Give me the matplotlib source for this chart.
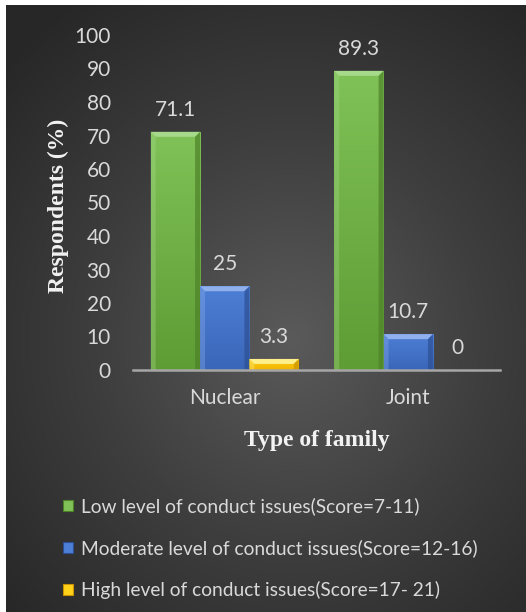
import numpy as np
import matplotlib.pyplot as plt
from matplotlib.patches import Polygon, Patch
from matplotlib.colors import LinearSegmentedColormap

families = ['Nuclear', 'Joint']
series_names = ['Low level of conduct issues(Score=7-11)',
                'Moderate level of conduct issues(Score=12-16)',
                'High level of conduct issues(Score=17- 21)']
low_vals = [71.1, 89.3]
moderate_vals = [25, 10.7]
high_vals = [3.3, 0]
yticks = [0, 10, 20, 30, 40, 50, 60, 70, 80, 90, 100]

# top colour, bottom colour, bevel light, bevel dark
palette = [('#80c257', '#5e9c34', '#a6d98a', '#4d8228'),
           ('#4d7fd6', '#3a66b8', '#8fb0ec', '#2c4f93'),
           ('#ffd21a', '#f0b400', '#fff08a', '#c99300')]

TICK_COL = '#d9d9d9'
FONT = 'Lato'
FS = 15

W, H, DPI = 526, 612, 100
fig = plt.figure(figsize=(W / DPI, H / DPI), dpi=DPI, facecolor='white')

# dark radial background
bg = fig.add_axes([6 / W, 0, 1 - 6 / W, 1 - 5 / H], zorder=0)
yy, xx = np.mgrid[0:1:400j, 0:1:400j]
r = np.sqrt(((xx - 0.55) * 1.0) ** 2 + ((yy - 0.45) * 1.1) ** 2)
r = np.clip(r / 0.75, 0, 1)
bg_cmap = LinearSegmentedColormap.from_list('bg', ['#5a5a5a', '#3e3e3e', '#272727'])
bg.imshow(r, cmap=bg_cmap, extent=[0, 1, 0, 1], aspect='auto', origin='lower')
bg.set_axis_off()

ax = fig.add_axes([133 / W, 242 / H, 367 / W, 335 / H], zorder=1)
ax.patch.set_alpha(0)
ax.set_xlim(-0.5, 1.5)
ax.set_ylim(0, 100)

bw = 0.269
offsets = [-bw, 0, bw]
x = np.arange(len(families))
ax_w_px = 367
ax_h_px = 335
bev_x = 5 / ax_w_px * 2.0
bev_y = 5 / ax_h_px * 100


def bevel_bar(xc, h, cols):
    top, bot, light, dark = cols
    x0, x1 = xc - bw / 2, xc + bw / 2
    if h <= 0:
        return
    bar = ax.bar(xc, h, bw, color=bot, zorder=2, linewidth=0)[0]
    grad = np.linspace(0, 1, 64).reshape(-1, 1)
    cmap = LinearSegmentedColormap.from_list('g', [bot, top])
    im = ax.imshow(grad, cmap=cmap, extent=[x0, x1, 0, h], origin='lower',
                   aspect='auto', zorder=2.1)
    im.set_clip_path(bar)
    by = min(bev_y, h / 2)
    bx = bev_x
    # top bevel
    ax.add_patch(Polygon([[x0, h], [x1, h], [x1 - bx, h - by], [x0 + bx, h - by]],
                         closed=True, color=light, lw=0, zorder=3))
    # left bevel
    ax.add_patch(Polygon([[x0, 0], [x0, h], [x0 + bx, h - by], [x0 + bx, 0]],
                         closed=True, color=light, alpha=0.35, lw=0, zorder=3))
    # right bevel
    ax.add_patch(Polygon([[x1, 0], [x1, h], [x1 - bx, h - by], [x1 - bx, 0]],
                         closed=True, color=dark, alpha=0.7, lw=0, zorder=3))


for vals, off, cols in zip([low_vals, moderate_vals, high_vals], offsets, palette):
    for xi, v in zip(x, vals):
        bevel_bar(xi + off, v, cols)
        ax.annotate('{:g}'.format(v), (xi + off, v), xytext=(0, 16),
                    textcoords='offset points', ha='center', va='center',
                    color=TICK_COL, fontsize=FS, family=FONT)

ax.set_xticks(x)
ax.set_xticklabels(families, color=TICK_COL, fontsize=FS, family=FONT)
ax.set_yticks(yticks)
ax.set_yticklabels([str(t) for t in yticks], color=TICK_COL, fontsize=FS, family=FONT)
ax.tick_params(length=0, pad=16)
ax.tick_params(axis='x', pad=13)
for s in ['top', 'right', 'left']:
    ax.spines[s].set_visible(False)
ax.spines['bottom'].set_color('#a6a6a6')
ax.spines['bottom'].set_linewidth(1.8)
ax.spines['bottom'].set_zorder(4)

ax.set_ylabel('Respondents (%)', family='Liberation Serif', fontweight='bold',
              fontsize=17, color='#f2f2f2')
ax.yaxis.set_label_coords(-0.175, 0.49)
ax.set_xlabel('Type of family', family='Liberation Serif', fontweight='bold',
              fontsize=17, color='#f2f2f2')
ax.xaxis.set_label_coords(0.5, -0.18)

handles = [Patch(facecolor=c[0], edgecolor=c[3], linewidth=0.8) for c in palette]
leg = fig.legend(handles, series_names, loc='upper left',
                 bbox_to_anchor=(50 / W, 1 - 484 / H), frameon=False,
                 handlelength=0.5, handleheight=0.5, handletextpad=0.4,
                 labelspacing=1.25, borderpad=0.2,
                 prop={'family': FONT, 'size': 13.8})
for t in leg.get_texts():
    t.set_color(TICK_COL)

fig.savefig('out.png', dpi=DPI, facecolor='white')
